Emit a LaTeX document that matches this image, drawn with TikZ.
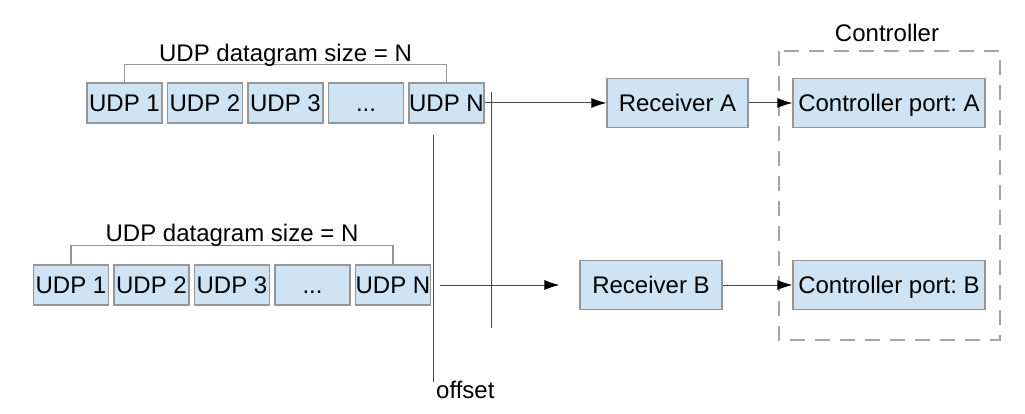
\documentclass[tikz,border=0pt]{standalone}
\usepackage{fontspec}
\setmainfont{Liberation Sans}
\usepackage{xcolor}
\usetikzlibrary{arrows.meta, calc}
\definecolor{riempi}{RGB}{206,228,244}
\definecolor{bordo}{RGB}{150,150,150}
\definecolor{linea}{RGB}{70,70,70}
\definecolor{tratteggio}{RGB}{165,165,165}
\frenchspacing

\begin{document}
\begin{tikzpicture}[x = 1pt, y = -1pt,
    every node/.style = {font = \fontsize{24}{28}\selectfont, inner sep = 0pt},
    blocco/.style = {draw = bordo, fill = riempi, line width = 1.2pt, minimum width = 75pt, minimum height = 40pt, text height = 16.5pt, text depth = 0pt},
    ricevitore/.style = {blocco, minimum height = 49pt},
    graffa/.style = {draw = bordo, line width = 1.1pt},
    freccia/.style = {draw = linea, line width = 1pt, -{Latex[length = 15pt, width = 10pt, color = black]}}]
    % Parametri
    \pgfmathsetmacro{\passo}{80.5}
    \pgfmathsetmacro{\ya}{103}
    \pgfmathsetmacro{\yb}{285}
    \pgfmathsetmacro{\xa}{124.5}
    \pgfmathsetmacro{\xb}{71}
    \fill[white] (0,0) rectangle (1025,414);
    \useasboundingbox (0,0) rectangle (1025,414);

    % Datagrammi A
    \node[blocco] (udpA1) at (\xa,\ya) {UDP 1};
    \node[blocco] (udpA2) at ({\xa+\passo},\ya) {UDP 2};
    \node[blocco] (udpA3) at ({\xa+2*\passo},\ya) {UDP 3};
    \node[blocco] (udpA4) at ({\xa+3*\passo},\ya) {...};
    \node[blocco] (udpAN) at ({\xa+4*\passo},\ya) {UDP N};
    \draw[graffa] (udpA1.north) -- ++(0,-18) -| (udpAN.north);
    \node[anchor = base] (dimA) at ({\xa+2*\passo},62) {UDP datagram size = N};

    % Datagrammi B
    \node[blocco] (udpB1) at (\xb,\yb) {UDP 1};
    \node[blocco] (udpB2) at ({\xb+\passo},\yb) {UDP 2};
    \node[blocco] (udpB3) at ({\xb+2*\passo},\yb) {UDP 3};
    \node[blocco] (udpB4) at ({\xb+3*\passo},\yb) {...};
    \node[blocco] (udpBN) at ({\xb+4*\passo},\yb) {UDP N};
    \draw[graffa] (udpB1.north) -- ++(0,-19) -| (udpBN.north);
    \node[anchor = base] (dimB) at ({\xb+2*\passo},241) {UDP datagram size = N};

    % Offset
    \coordinate (offAlto) at (433.5,135);
    \coordinate (offBasso) at (433.5,382);
    \draw[linea, line width = 1pt] (offAlto) -- (offBasso);
    \node[anchor = base west] (offset) at (436,398) {offset};
    \coordinate (tagAlto) at (491,92);
    \coordinate (tagBasso) at (491,328);
    \draw[linea, line width = 1pt] (tagAlto) -- (tagBasso);

    % Ricevitori e controller
    \node[ricevitore, minimum width = 141pt] (ricA) at (677.5,\ya) {Receiver A};
    \node[ricevitore, minimum width = 142pt] (ricB) at (651,\yb) {Receiver B};
    \node[ricevitore, minimum width = 192pt] (portaA) at (889,\ya) {Controller port: A};
    \node[ricevitore, minimum width = 192pt] (portaB) at (889,\yb) {Controller port: B};
    \draw[tratteggio, line width = 1.3pt, dash pattern = on 15pt off 10pt] (779,51) rectangle (1000,340);
    \node[anchor = base] (ctrl) at (887,42) {Controller};

    \draw[freccia] (udpAN) -- (ricA);
    \draw[freccia, shorten <= 9pt, shorten >= 20pt] (udpBN) -- (ricB);
    \draw[freccia] (ricA) -- (portaA);
    \draw[freccia] (ricB) -- (portaB);
\end{tikzpicture}
\end{document}
